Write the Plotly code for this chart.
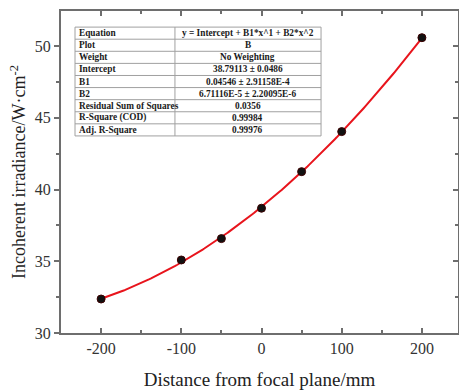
import numpy as np
import plotly.graph_objects as go

# Measured incoherent irradiance vs. distance from the focal plane
distance_mm = [-200, -100, -50, 0, 50, 100, 200]
irradiance = [32.37, 35.09, 36.58, 38.70, 41.25, 44.04, 50.59]

# Quadratic fit parameters (y = Intercept + B1*x + B2*x^2)
fit_intercept = 38.79113
fit_b1 = 0.04546
fit_b2 = 6.71116e-5

table_labels = ["Equation", "Plot", "Weight", "Intercept", "B1", "B2",
                "Residual Sum of Squares", "R-Square (COD)", "Adj. R-Square"]
table_values = ["y = Intercept + B1*x^1 + B2*x^2", "B", "No Weighting",
                "38.79113 ± 0.0486", "0.04546 ± 2.91158E-4",
                "6.71116E-5 ± 2.20095E-6", "0.0356", "0.99984", "0.99976"]

x_ticks = [-200, -100, 0, 100, 200]
x_ticktext = ["-200", "-100", "0", "100", "200"]
y_ticks = [30, 35, 40, 45, 50]

serif = "Liberation Serif, Times New Roman, serif"
axis_col = "#6e6e6e"
table_line = "#a0a0a0"

xf = np.linspace(distance_mm[0], distance_mm[-1], 200)
yf = fit_intercept + fit_b1 * xf + fit_b2 * xf ** 2

fig = go.Figure()
fig.add_trace(go.Scatter(x=xf, y=yf, mode="lines",
                         line=dict(color="#e8141c", width=2), showlegend=False))
fig.add_trace(go.Scatter(x=distance_mm, y=irradiance, mode="markers",
                         marker=dict(color="#111111", size=8,
                                     line=dict(color="#3a0000", width=1)),
                         showlegend=False))
# invisible trace so the right-hand mirror axis is drawn
fig.add_trace(go.Scatter(x=distance_mm, y=irradiance, yaxis="y2", mode="markers",
                         marker=dict(opacity=0), showlegend=False, hoverinfo="skip"))

# fit-results table in paper coordinates (plot area fractions)
tx0, tx1, tsplit = 0.0353, 0.655, 0.287
ty_top, ty_bot = 0.950, 0.612
n_rows = len(table_labels)
row_h = (ty_top - ty_bot) / n_rows

shapes = [dict(type="rect", xref="paper", yref="paper", x0=tx0, x1=tx1,
               y0=ty_bot, y1=ty_top, line=dict(color=table_line, width=1),
               fillcolor="white", layer="above")]
shapes.append(dict(type="line", xref="paper", yref="paper", x0=tsplit, x1=tsplit,
                   y0=ty_bot, y1=ty_top, line=dict(color=table_line, width=1),
                   layer="above"))
for i in range(1, n_rows):
    yy = ty_top - i * row_h
    shapes.append(dict(type="line", xref="paper", yref="paper", x0=tx0, x1=tx1,
                       y0=yy, y1=yy, line=dict(color=table_line, width=1),
                       layer="above"))

annotations = []
cell_font = dict(family=serif, size=9.3, color="#1a1a1a")
for i, (lab, val) in enumerate(zip(table_labels, table_values)):
    yc = ty_top - (i + 0.5) * row_h
    annotations.append(dict(xref="paper", yref="paper", x=tx0 + 0.006, y=yc,
                            text="<b>" + lab + "</b>", showarrow=False,
                            xanchor="left", yanchor="middle", font=cell_font))
    annotations.append(dict(xref="paper", yref="paper", x=(tsplit + tx1) / 2, y=yc,
                            text="<b>" + val + "</b>", showarrow=False,
                            xanchor="center", yanchor="middle", font=cell_font))

fig.update_layout(
    width=459, height=390,
    margin=dict(l=61, r=1, t=11, b=57),
    plot_bgcolor="white", paper_bgcolor="white",
    font=dict(family=serif, color="#333333"),
    shapes=shapes, annotations=annotations,
    xaxis=dict(
        range=[-250, 245], tickvals=x_ticks, ticktext=x_ticktext,
        ticks="inside", ticklen=5, tickwidth=1.5,
        tickcolor=axis_col, showline=True, linecolor=axis_col, linewidth=2,
        mirror="ticks", showgrid=False, zeroline=False,
        minor=dict(dtick=50, tick0=0, ticks="inside", ticklen=3, tickcolor=axis_col),
        tickfont=dict(family=serif, size=16, color="#333333"),
        title=dict(text="Distance from focal plane/mm", standoff=17,
                   font=dict(family=serif, size=19, color="#222222")),
    ),
    yaxis=dict(
        range=[30, 52.45], tickvals=y_ticks, ticks="outside", ticklen=5, tickwidth=1.5,
        tickcolor=axis_col, showline=True, linecolor=axis_col, linewidth=2,
        showgrid=False, zeroline=False,
        minor=dict(dtick=2.5, tick0=30, ticks="outside", ticklen=3, tickcolor=axis_col),
        tickfont=dict(family=serif, size=16, color="#333333"),
        title=dict(text="Incoherent irradiance/W·cm<sup>-2</sup>", standoff=4,
                   font=dict(family=serif, size=18, color="#222222")),
    ),
    yaxis2=dict(
        range=[30, 52.45], overlaying="y", side="right", tickvals=y_ticks,
        ticks="inside", ticklen=5, tickwidth=1.5, tickcolor=axis_col,
        showticklabels=False, showline=True, linecolor=axis_col, linewidth=2,
        showgrid=False, zeroline=False,
        minor=dict(dtick=2.5, tick0=30, ticks="inside", ticklen=3, tickcolor=axis_col),
    ),
)

fig.write_html("out.html")
